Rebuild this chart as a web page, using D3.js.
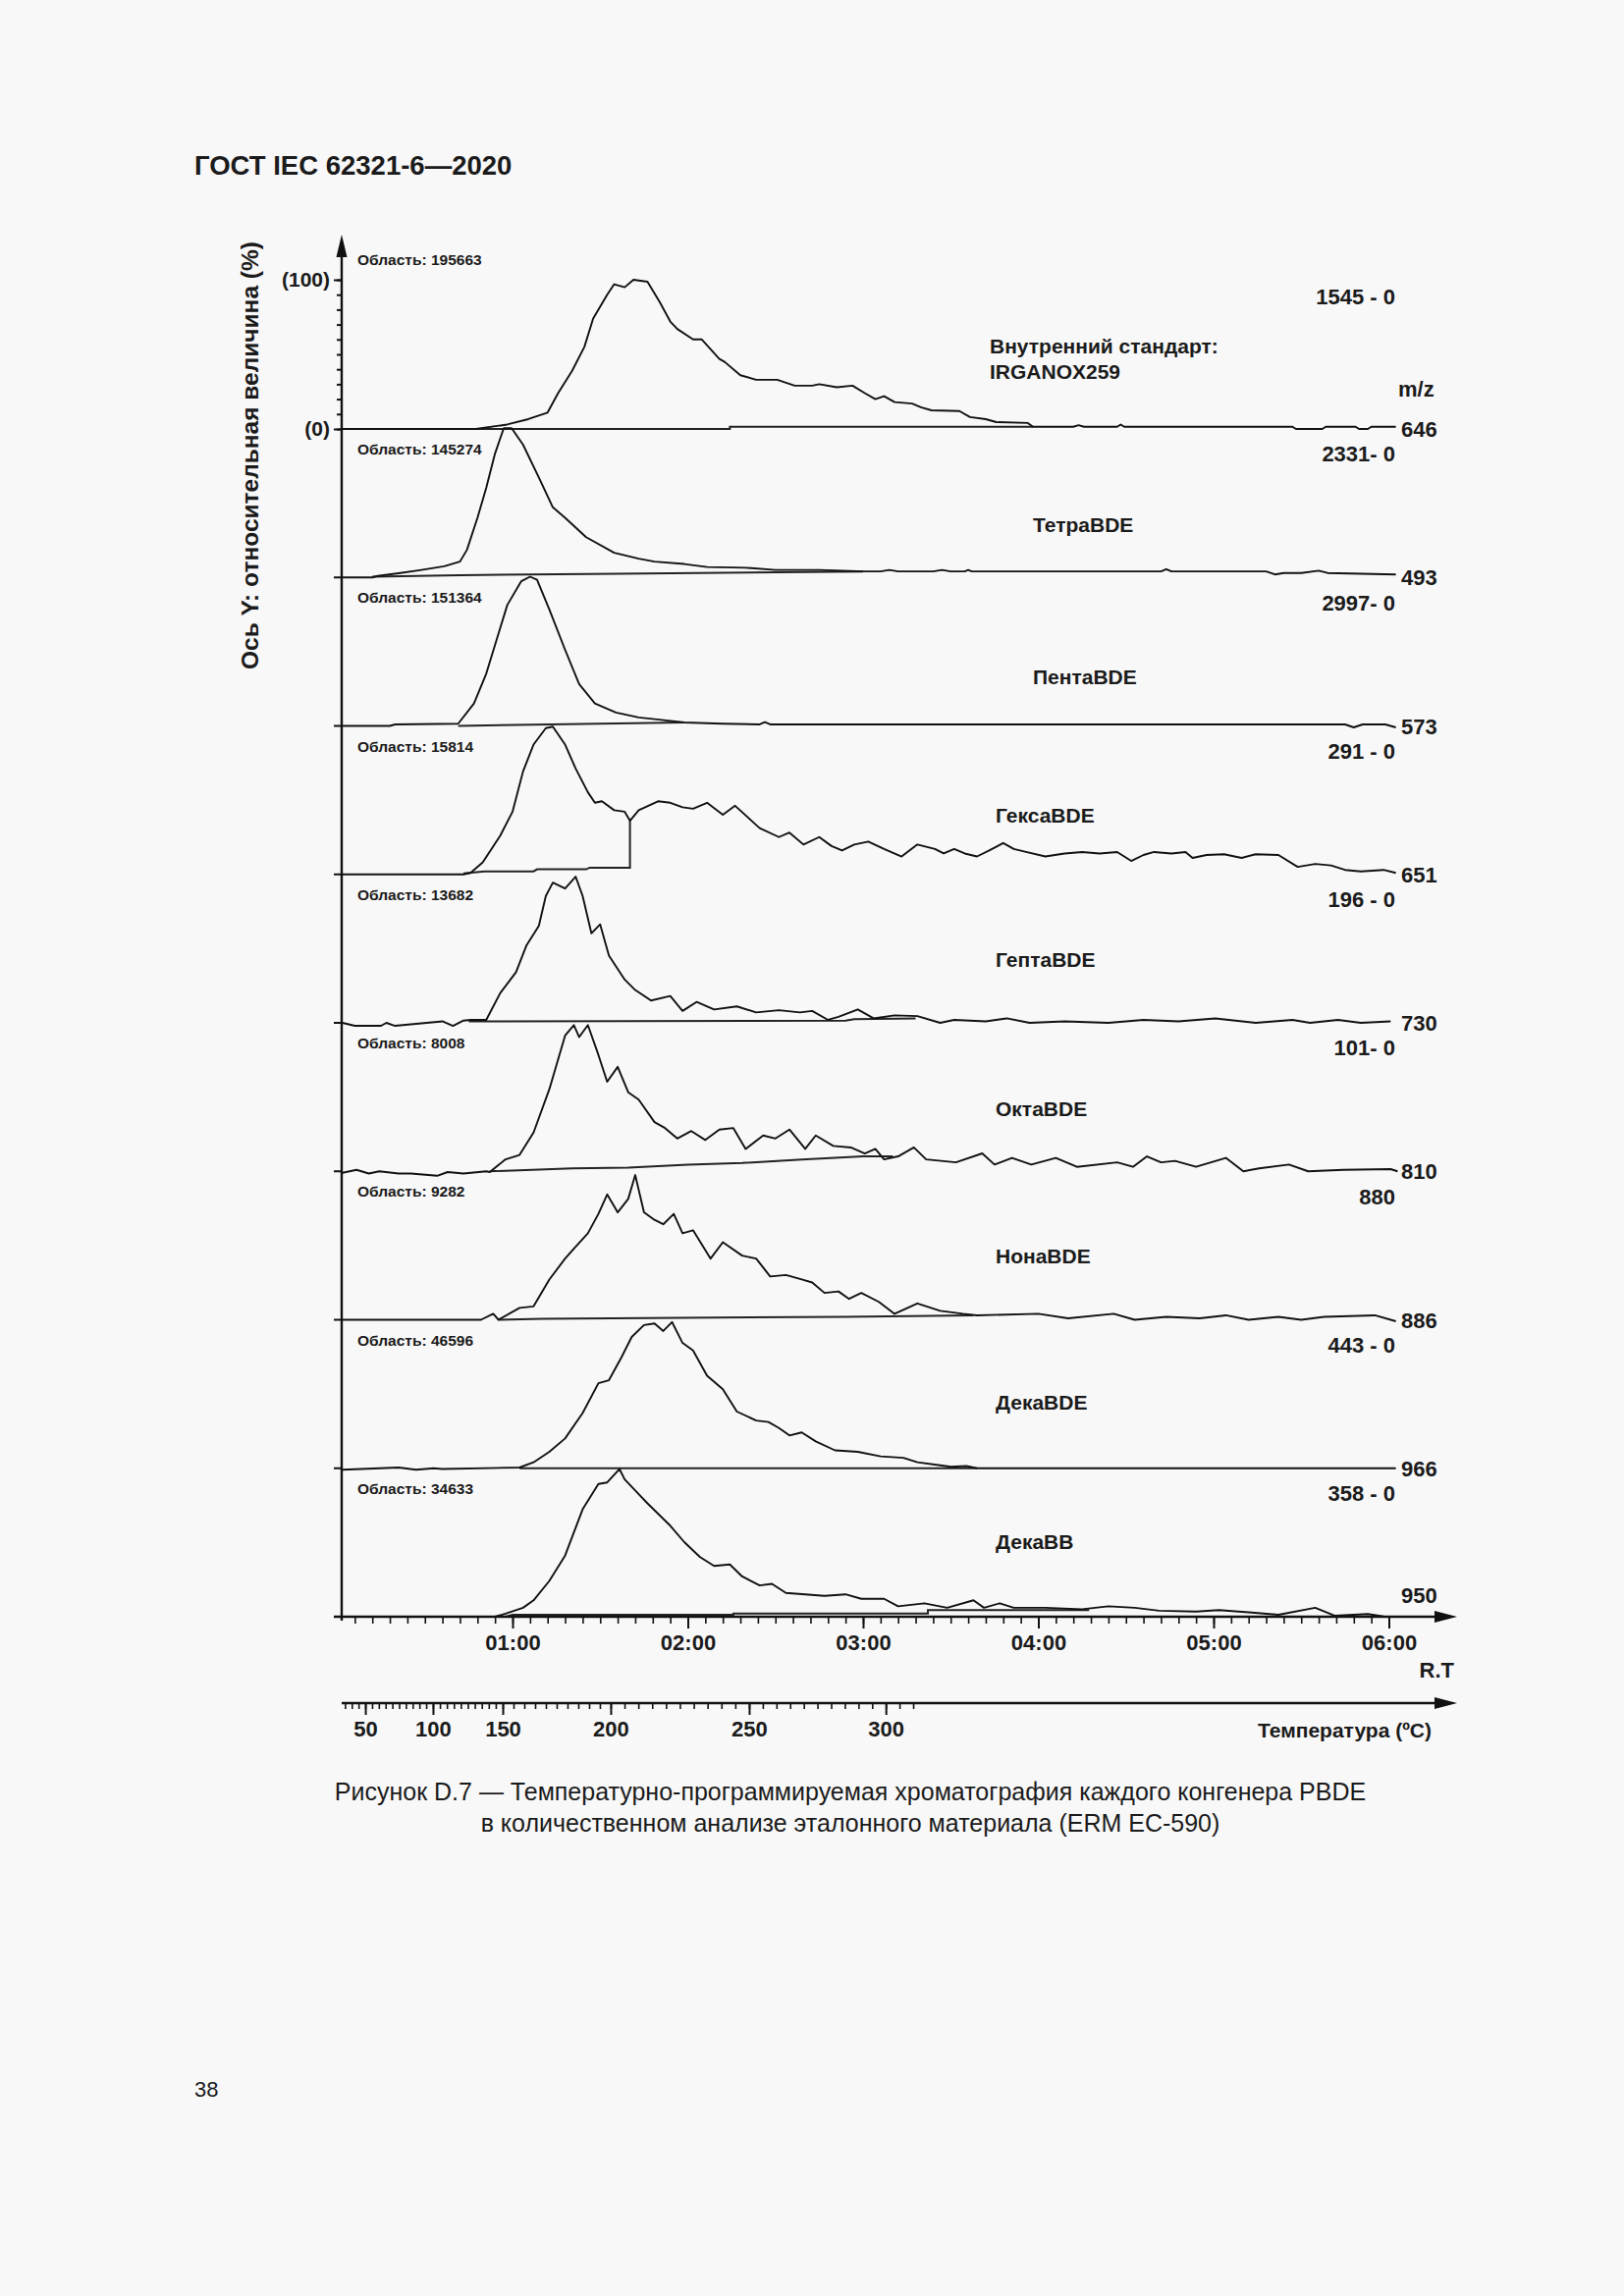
<!DOCTYPE html>
<html>
<head>
<meta charset="utf-8">
<script src="https://cdn.jsdelivr.net/npm/d3@7"></script>
<style>
  body { margin: 0; background: #f8f8f8; }
  text { font-family: "Liberation Sans", Arial, sans-serif; fill: #1b1b1b; }
</style>
</head>
<body>
<script>
// ---- data ----
var names = ["Внутренний стандарт:|IRGANOX259", "ТетраBDE", "ПентаBDE", "ГексаBDE", "ГептаBDE",
             "ОктаBDE", "НонаBDE", "ДекаBDE", "ДекаBB"];
var areas = [195663, 145274, 151364, 15814, 13682, 8008, 9282, 46596, 34633];
var ranges = ["1545 - 0", "2331- 0", "2997- 0", "291 - 0", "196 - 0", "101- 0", "880", "443 - 0", "358 - 0"];
var mz = [646, 493, 573, 651, 730, 810, 886, 966, 950];

var timeTicks = [1, 2, 3, 4, 5, 6];            // minutes
var tempTicks = [50, 100, 150, 200, 250, 300];  // °C
var tempTimes = [0.16, 0.546, 0.944, 1.56, 2.35, 3.13]; // minute at which each temperature is reached

// traces: [minutes, % of full scale]
var traces = [
  [[0.03,0],[0.79,0],[0.97,3],[1.09,6.6],[1.2,11],[1.26,24],[1.34,39],[1.41,55],[1.46,74],[1.54,90],[1.58,97],
   [1.64,95],[1.69,100],[1.77,98.7],[1.84,85],[1.9,72],[1.94,67],[2.03,60],[2.08,60],[2.18,47],[2.21,45],[2.3,36],
   [2.39,33],[2.51,33],[2.61,29],[2.71,29],[2.75,30],[2.85,28],[2.94,29],[3.01,24],[3.07,20],[3.12,22],[3.18,18],
   [3.28,17],[3.33,14.5],[3.39,12.5],[3.55,12],[3.61,8],[3.7,6.6],[3.76,4.6],[3.94,4],[3.97,1.5],[4.2,1.5],[4.23,2.5],
   [4.26,1.5],[4.45,1.5],[4.47,3],[4.49,1.5],[5.45,1.5],[5.47,0],[5.62,0],[5.64,1.5],[5.81,1.5],[5.83,0],[5.88,0],
   [5.9,1.5],[6.04,1.5]],
  [[0.03,0],[0.2,0],[0.23,1],[0.36,3],[0.48,5],[0.61,7.5],[0.7,10.6],[0.74,18.5],[0.8,40],[0.85,60],[0.9,83],
   [0.95,100],[0.995,100],[1.06,89],[1.15,67],[1.23,47],[1.3,40],[1.42,27],[1.58,16.5],[1.72,12.6],[1.81,10.6],
   [1.98,9],[2.11,7],[2.33,6.5],[2.5,5],[2.75,5],[3.01,4],[3.1,4],[3.15,5],[3.2,4],[3.4,4],[3.45,5],[3.5,4],[3.58,4],
   [3.6,5],[3.62,4],[4.7,4],[4.73,5.5],[4.76,4],[5.3,4],[5.35,2],[5.4,3],[5.5,3],[5.6,4.5],[5.65,3],[6.04,2]],
  [[0.03,0],[0.3,0],[0.33,1],[0.69,1.5],[0.78,15],[0.85,35],[0.91,58],[0.97,81],[1.05,97],[1.1,100],[1.14,98],
   [1.21,78],[1.3,51],[1.38,28],[1.47,15],[1.59,9],[1.72,5.7],[1.85,4],[1.98,2.3],[2.2,1.5],[2.41,1],[2.44,2.5],
   [2.47,1],[5.75,1],[5.8,-1],[5.85,1],[5.98,1],[6.04,-1]],
  [[0.03,0],[0.72,0],[0.76,1],[0.83,8],[0.93,26],[1.0,42],[1.06,69],[1.12,87],[1.19,98],[1.23,99],[1.3,87],
   [1.36,71],[1.43,55],[1.47,48],[1.51,49],[1.58,43],[1.64,42],[1.67,36],[1.72,43],[1.83,49],[1.9,48],[1.97,45],
   [2.03,44],[2.11,48],[2.2,40],[2.27,46],[2.41,31],[2.52,25],[2.58,28],[2.66,20],[2.75,25],[2.82,19],[2.88,16],
   [2.95,20],[3.03,22],[3.12,17],[3.22,12],[3.31,20],[3.41,17],[3.46,14],[3.52,17],[3.58,14],[3.65,12],[3.72,16],
   [3.8,21],[3.86,17],[3.93,15],[4.04,12],[4.15,14],[4.25,15],[4.35,14],[4.45,15],[4.53,9],[4.6,13],[4.66,15],
   [4.76,14],[4.84,15],[4.88,11],[4.96,13],[5.06,13.5],[5.16,11],[5.24,13.5],[5.37,13],[5.48,5],[5.58,7],
   [5.67,6],[5.75,3],[5.84,2],[5.97,3],[6.04,1]],
  [[0.03,0],[0.1,-2],[0.25,-2],[0.28,0],[0.33,-2],[0.6,1],[0.66,-2],[0.72,1.5],[0.76,2],[0.85,2],[0.93,20],
   [1.02,34],[1.08,52],[1.15,65],[1.19,85],[1.23,94],[1.3,90],[1.36,98],[1.4,85],[1.45,60],[1.5,66],[1.55,45],
   [1.64,29],[1.7,22],[1.79,15],[1.9,18],[1.97,8],[2.05,14],[2.15,9],[2.28,11],[2.39,7],[2.52,8.5],[2.64,7],
   [2.71,8],[2.8,2],[2.86,4],[2.97,9],[3.06,3],[3.18,5],[3.31,4.5],[3.44,0],[3.52,2],[3.7,1],[3.82,3],[3.95,0],
   [4.15,1],[4.4,0],[4.6,2],[4.8,1],[5.01,3],[5.24,0],[5.45,2],[5.55,0],[5.71,2],[5.84,0],[6.01,1]],
  [[0.03,-1],[0.11,1],[0.18,-1.5],[0.24,0],[0.35,-1.5],[0.42,-1.5],[0.57,-3],[0.63,-0.5],[0.72,-1.5],[0.85,0],
   [0.87,-0.5],[0.96,8],[1.04,11],[1.12,26],[1.21,55],[1.3,91],[1.35,98],[1.38,90],[1.43,98],[1.49,78],[1.54,60],
   [1.6,70],[1.66,53],[1.72,48],[1.81,33],[1.87,29],[1.94,22],[2.02,27],[2.1,21],[2.18,28],[2.26,29],[2.33,15],
   [2.43,24],[2.5,22],[2.58,28],[2.67,15],[2.73,24],[2.83,17],[2.93,16],[3.01,12],[3.07,15],[3.12,8],[3.2,10],
   [3.29,16],[3.36,8],[3.53,6],[3.68,12],[3.75,4.5],[3.85,9],[3.96,4.5],[4.1,9],[4.22,3],[4.45,6],[4.54,3],
   [4.62,10],[4.7,6],[4.78,7],[4.9,3],[5.07,9],[5.17,0],[5.26,2],[5.43,4.5],[5.54,0],[5.74,1],[6.01,1.5],[6.05,0]],
  [[0.03,0],[0.82,0],[0.89,4],[0.92,0],[1.04,8],[1.12,9],[1.21,27],[1.3,41],[1.36,49],[1.43,58],[1.49,71],
   [1.54,84],[1.6,72],[1.66,81],[1.7,97],[1.75,72],[1.81,67],[1.86,64],[1.92,71],[1.97,58],[2.03,60],[2.13,41],
   [2.2,52],[2.31,43],[2.39,41],[2.47,29],[2.56,30],[2.65,27],[2.71,25],[2.78,18],[2.86,19],[2.92,14],[2.99,18],
   [3.09,12],[3.18,4],[3.31,11],[3.44,6],[3.57,4],[3.65,3],[4.0,4],[4.17,1],[4.43,4],[4.55,0],[4.73,2],[4.92,1],
   [5.07,3],[5.2,0],[5.37,2],[5.5,0],[5.63,2],[5.92,3],[6.04,-1]],
  [[0.03,-1],[0.35,0.5],[0.45,-1],[0.55,0],[0.6,-0.5],[1.04,0.5],[1.12,4],[1.21,11],[1.3,20],[1.4,37],[1.49,57],
   [1.55,59],[1.62,74],[1.68,88],[1.75,96],[1.81,97],[1.86,92],[1.91,98],[1.97,84],[2.03,79],[2.11,62],[2.2,53],
   [2.28,38],[2.39,32],[2.46,31],[2.52,27],[2.58,22],[2.65,24],[2.73,18],[2.84,12],[2.97,11],[3.1,8],[3.23,7],
   [3.31,4],[3.44,2],[3.5,1],[3.59,1.5],[3.65,0],[6.04,0]],
  [[0.03,0],[0.9,0],[0.96,2],[1.06,6],[1.12,11],[1.21,24],[1.3,41],[1.4,72],[1.49,89],[1.54,90],[1.61,99],
   [1.64,92],[1.77,76],[1.9,61],[1.98,50],[2.07,40],[2.15,34],[2.24,35],[2.31,27],[2.41,21],[2.48,22],[2.56,16],
   [2.67,15],[2.78,14],[2.9,15],[2.99,12],[3.12,12],[3.2,7],[3.35,9],[3.48,6],[3.63,11],[3.69,6],[3.78,9],
   [3.86,6],[4.04,6],[4.25,5],[4.4,7],[4.55,6],[4.69,4],[4.9,3.5],[5.03,4.4],[5.2,3],[5.37,1.3],[5.58,6],
   [5.69,0.7],[5.88,1.8],[5.97,0.2],[6.04,0]]
];

// integration baselines drawn under each peak
var integ = [
  [[0.79,0],[2.24,0],[2.24,1.5],[3.97,1.5]],
  [[0.2,0.5],[0.7,1.5],[1.6,2.5],[3.0,4]],
  [[0.69,0],[1.98,2.3]],
  [[0.72,0.7],[0.84,2],[1.12,2],[1.14,3.4],[1.42,3.4],[1.44,4.5],[1.67,4.5],[1.67,36]],
  [[0.75,1],[2.9,1.5],[2.95,2.5],[3.3,3]],
  [[0.87,0],[1.34,2],[1.66,2.5],[2.0,4.5],[2.31,5.6],[2.65,7.9],[3.0,10],[3.17,10]],
  [[0.92,0],[1.17,0.7],[2.9,2],[3.63,3]],
  [[1.04,0],[3.65,0]],
  [[0.96,0],[1.0,1.3],[2.26,1.3],[2.26,2.2],[3.37,2.2],[3.37,4.4],[4.29,4.4]]
];

// ---- layout ----
var W = 1654, H = 2339;
var nameX  = [1008, 1052, 1052, 1014, 1014, 1014, 1014, 1014, 1014];
var nameDy = [0, -53, -50, -60, -64, -63, -65, -67, -76];

var svg = d3.select("body").append("svg")
  .attr("width", W).attr("height", H);

var x = d3.scaleLinear().domain([0, 6]).range([343.5, 1414.5]);
var base = d3.scaleLinear().domain([0, 8]).range([437, 1647]);
var pct = d3.scaleLinear().domain([0, 100]).range([0, 152]);
var axisX = 348;

svg.append("text")
  .attr("x", 198).attr("y", 178)
  .attr("font-size", 27.5).attr("font-weight", "bold")
  .text("ГОСТ IEC 62321-6—2020");

svg.append("text")
  .attr("x", 198).attr("y", 2136)
  .attr("font-size", 22)
  .text("38");

var chart = svg.append("g");

// panels
names.forEach(function(nm, i) {
  var b = base(i);
  var line = d3.line()
    .x(function(d) { return x(d[0]); })
    .y(function(d) { return b - pct(d[1]); });

  chart.append("path")
    .attr("d", line(integ[i]))
    .attr("fill", "none").attr("stroke", "#222").attr("stroke-width", 2);

  chart.append("path")
    .attr("d", line(traces[i]))
    .attr("fill", "none").attr("stroke", "#111").attr("stroke-width", 1.9)
    .attr("stroke-linejoin", "round");

  // Область label
  chart.append("text")
    .attr("x", 364)
    .attr("y", i == 0 ? 270 : base(i - 1) + 26)
    .attr("font-size", 15.5).attr("font-weight", "bold")
    .text("Область: " + areas[i]);

  chart.append("text")
    .attr("x", 1421).attr("y", b - (i == 0 ? 127 : 118))
    .attr("text-anchor", "end")
    .attr("font-size", 22).attr("font-weight", "bold")
    .text(ranges[i]);

  chart.append("text")
    .attr("x", 1427).attr("y", i == 8 ? b - 14 : b + 8)
    .attr("font-size", 22).attr("font-weight", "bold")
    .text(mz[i]);

  var parts = nm.split("|");
  parts.forEach(function(p, k) {
    chart.append("text")
      .attr("x", nameX[i])
      .attr("y", i == 0 ? 360 + k * 26 : b + nameDy[i] + 7)
      .attr("font-size", 21).attr("font-weight", "bold")
      .text(p);
  });

  if (i > 0 && i < 8) {
    chart.append("line")
      .attr("x1", axisX - 8).attr("x2", axisX)
      .attr("y1", b).attr("y2", b)
      .attr("stroke", "#111").attr("stroke-width", 2);
  }
});

chart.append("text")
  .attr("x", 1424).attr("y", 404)
  .attr("font-size", 22).attr("font-weight", "bold")
  .text("m/z");

// Y axis (top panel scale 0..100)
var y1 = d3.scaleLinear().domain([0, 100]).range([base(0), base(0) - pct(100)]);
var yAxis = chart.append("g")
  .attr("transform", "translate(" + axisX + ",0)")
  .call(d3.axisLeft(y1).tickValues(d3.range(0, 101, 10)).tickSize(5).tickFormat(""));
yAxis.select(".domain").remove();
yAxis.selectAll("line").attr("stroke", "#111").attr("stroke-width", 2);

var yMaj = chart.append("g")
  .attr("transform", "translate(" + axisX + ",0)")
  .call(d3.axisLeft(y1).tickValues([0, 100]).tickSize(8).tickPadding(4)
    .tickFormat(function(d) { return "(" + d + ")"; }));
yMaj.select(".domain").remove();
yMaj.selectAll("line").attr("stroke", "#111").attr("stroke-width", 2);
yMaj.selectAll("text")
  .attr("font-size", 21).attr("font-weight", "bold")
  .attr("font-family", "Liberation Sans, Arial, sans-serif").attr("fill", "#1b1b1b");

chart.append("line")
  .attr("x1", axisX).attr("x2", axisX).attr("y1", base(8) + 4).attr("y2", 250)
  .attr("stroke", "#111").attr("stroke-width", 2.4);
chart.append("path")
  .attr("d", "M" + axisX + ",239 L" + (axisX - 5.5) + ",262 L" + (axisX + 5.5) + ",262 Z")
  .attr("fill", "#111");

chart.append("text")
  .attr("transform", "translate(263,464) rotate(-90)")
  .attr("text-anchor", "middle")
  .attr("font-size", 24.5).attr("font-weight", "bold")
  .text("Ось Y: относительная величина (%)");

// time axis
var yT = base(8);
var gMinor = chart.append("g")
  .attr("transform", "translate(0," + yT + ")")
  .call(d3.axisBottom(x).tickValues(d3.range(1, 61).map(function(k) { return k / 10; }))
    .tickSize(7).tickFormat(""));
gMinor.select(".domain").remove();
gMinor.selectAll("line").attr("stroke", "#111").attr("stroke-width", 1.6);

var gMajor = chart.append("g")
  .attr("transform", "translate(0," + yT + ")")
  .call(d3.axisBottom(x).tickValues(timeTicks).tickSize(12).tickPadding(6)
    .tickFormat(function(d) { return "0" + d + ":00"; }));
gMajor.select(".domain").remove();
gMajor.selectAll("line").attr("stroke", "#111").attr("stroke-width", 2);
gMajor.selectAll("text")
  .attr("font-size", 22).attr("font-weight", "bold")
  .attr("font-family", "Liberation Sans, Arial, sans-serif").attr("fill", "#1b1b1b");

chart.append("line")
  .attr("x1", 340).attr("x2", 1470).attr("y1", yT).attr("y2", yT)
  .attr("stroke", "#111").attr("stroke-width", 2.6);
chart.append("path")
  .attr("d", "M1484," + yT + " L1461," + (yT - 6) + " L1461," + (yT + 6) + " Z")
  .attr("fill", "#111");

chart.append("text")
  .attr("x", 1481).attr("y", 1709)
  .attr("text-anchor", "end")
  .attr("font-size", 22).attr("font-weight", "bold")
  .text("R.T");

// temperature axis
var yTemp = 1735;
var temp = d3.scaleLinear().domain(tempTicks).range(tempTimes.map(x));
var tMinor = chart.append("g")
  .attr("transform", "translate(0," + yTemp + ")")
  .call(d3.axisBottom(temp).tickValues(d3.range(35, 311, 5)).tickSize(6).tickFormat(""));
tMinor.select(".domain").remove();
tMinor.selectAll("line").attr("stroke", "#111").attr("stroke-width", 1.6);

var tMajor = chart.append("g")
  .attr("transform", "translate(0," + yTemp + ")")
  .call(d3.axisBottom(temp).tickValues(tempTicks).tickSize(12).tickPadding(6));
tMajor.select(".domain").remove();
tMajor.selectAll("line").attr("stroke", "#111").attr("stroke-width", 2);
tMajor.selectAll("text")
  .attr("font-size", 22).attr("font-weight", "bold")
  .attr("font-family", "Liberation Sans, Arial, sans-serif").attr("fill", "#1b1b1b");

chart.append("line")
  .attr("x1", axisX).attr("x2", 1470).attr("y1", yTemp).attr("y2", yTemp)
  .attr("stroke", "#111").attr("stroke-width", 2.6);
chart.append("path")
  .attr("d", "M1484," + yTemp + " L1461," + (yTemp - 6) + " L1461," + (yTemp + 6) + " Z")
  .attr("fill", "#111");

chart.append("text")
  .attr("x", 1458).attr("y", 1770)
  .attr("text-anchor", "end")
  .attr("font-size", 21).attr("font-weight", "bold")
  .text("Температура (ºC)");

// caption
svg.append("text")
  .attr("x", 866).attr("y", 1834)
  .attr("text-anchor", "middle")
  .attr("font-size", 25)
  .text("Рисунок D.7 — Температурно-программируемая хроматография каждого конгенера PBDE");
svg.append("text")
  .attr("x", 866).attr("y", 1866)
  .attr("text-anchor", "middle")
  .attr("font-size", 25)
  .text("в количественном анализе эталонного материала (ERM EC-590)");
</script>
</body>
</html>
